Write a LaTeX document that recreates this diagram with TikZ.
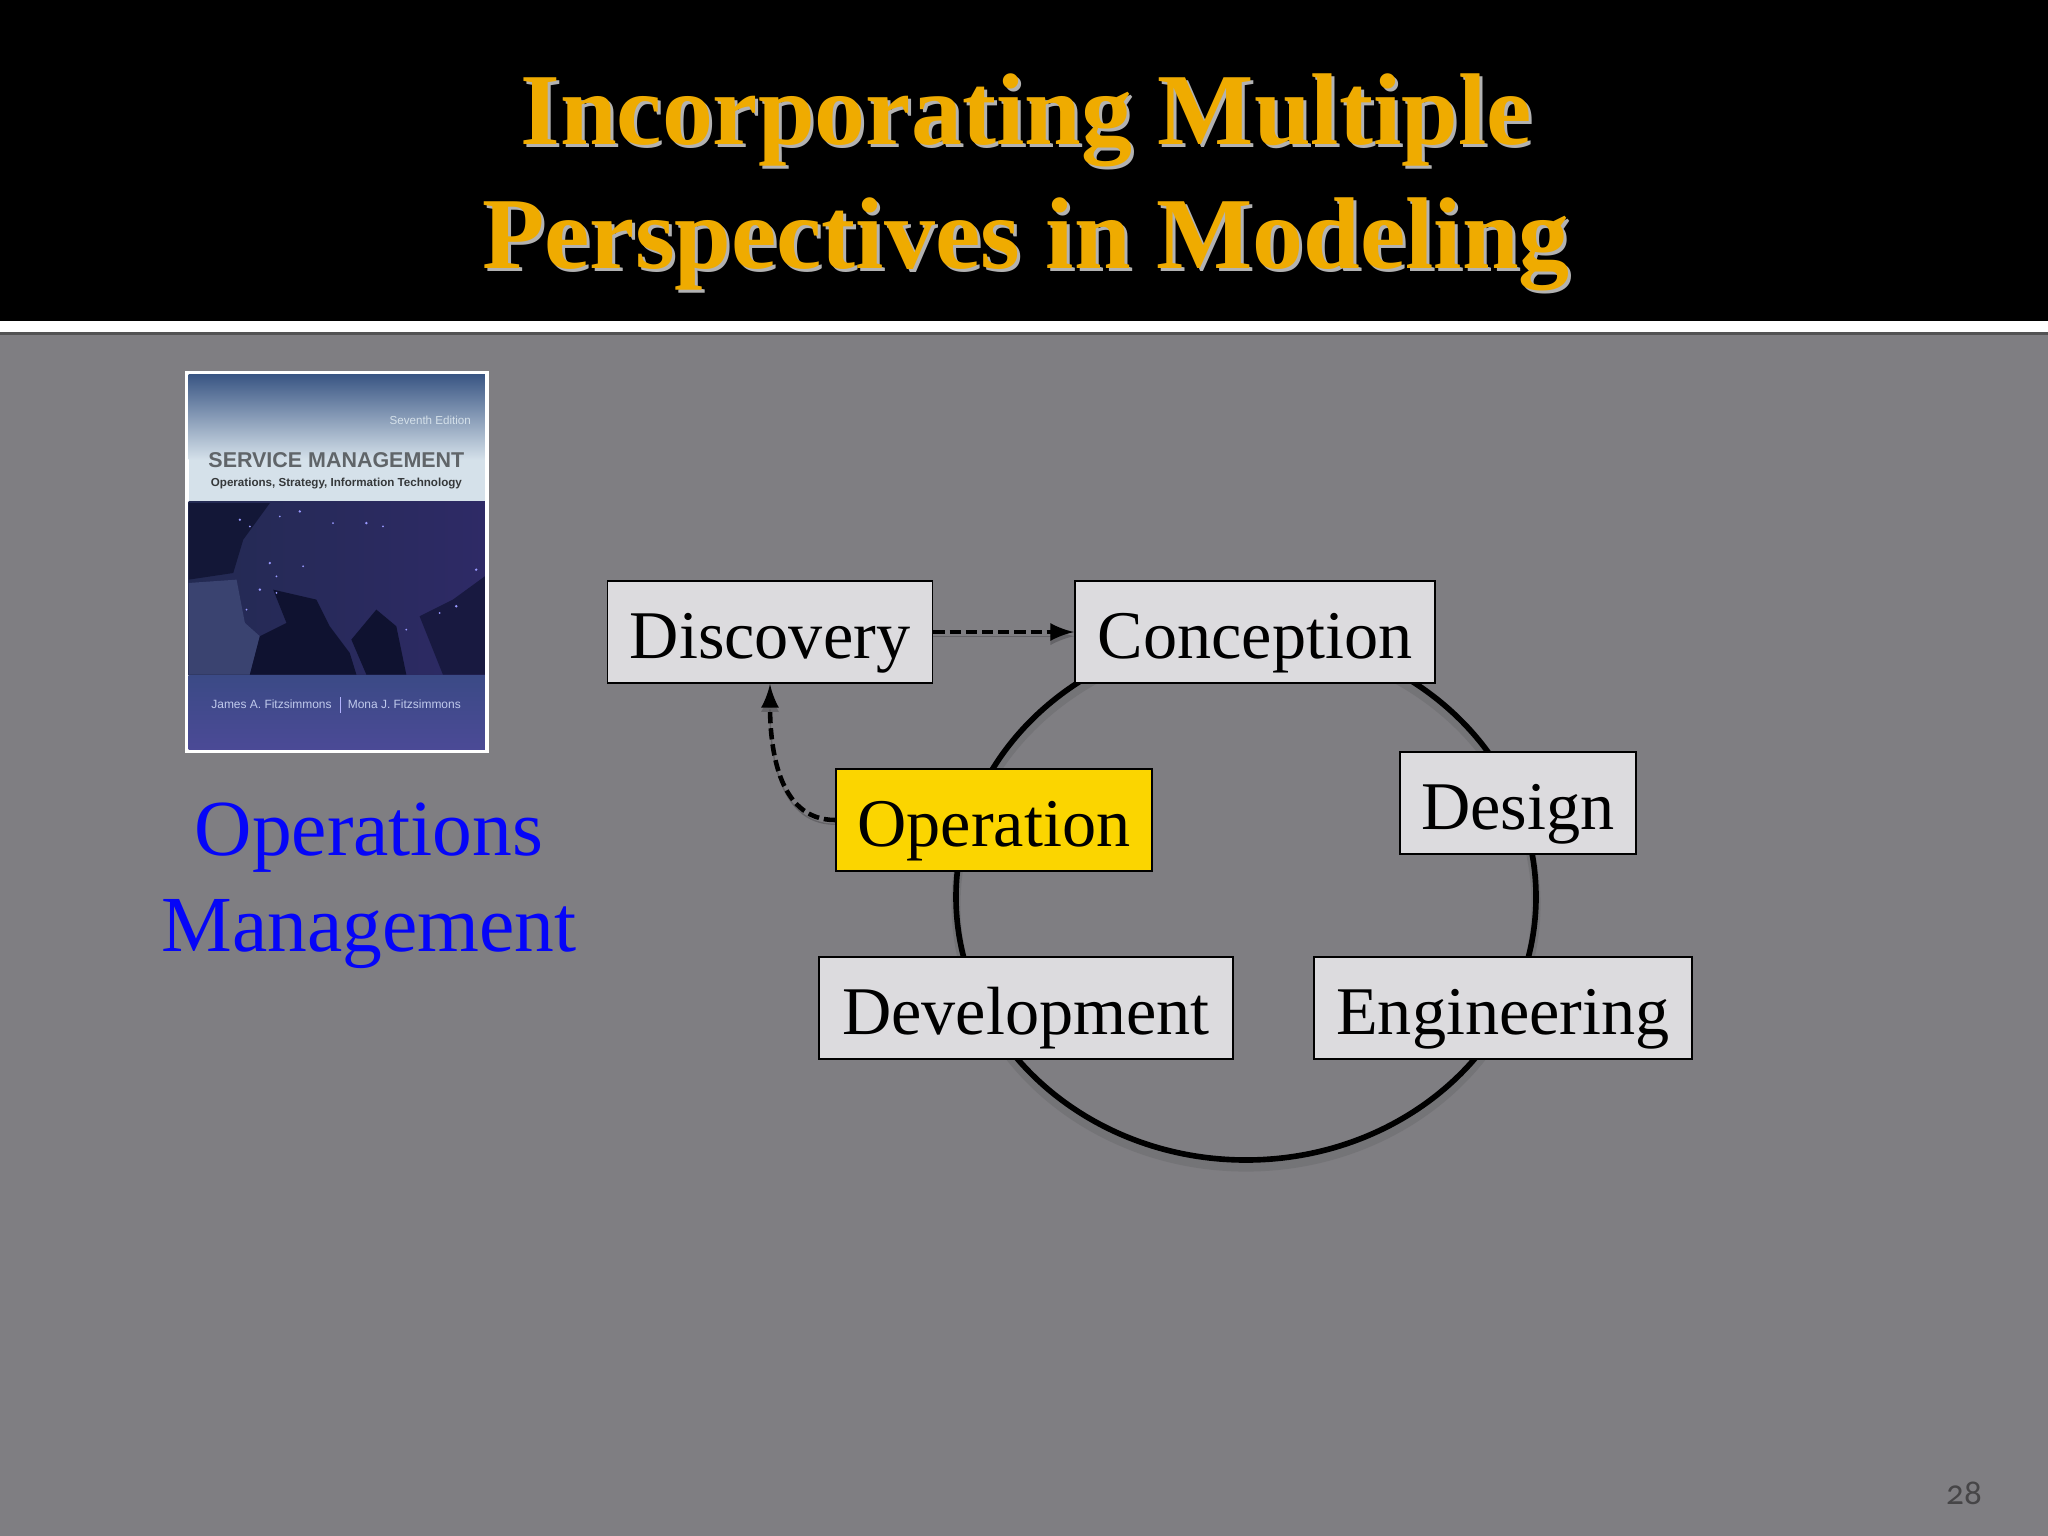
\documentclass[tikz,border=0pt]{standalone}
\usepackage{fontspec}
\setmainfont{Liberation Serif}
\setsansfont{Liberation Sans}
\newfontfamily\numfont[Numbers=OldStyle]{Carlito}
\usepackage{xcolor}
\definecolor{slidegray}{HTML}{7F7E82}
\definecolor{boxgray}{HTML}{DCDBDE}
\definecolor{boxyellow}{HTML}{FBD500}
\definecolor{titlegold}{HTML}{EFAB00}
\definecolor{opsblue}{HTML}{0505F8}
\definecolor{covertop}{HTML}{3A5684}
\definecolor{coverpale}{HTML}{D5E1EA}
\definecolor{covernight}{HTML}{232A52}
\definecolor{covereast}{HTML}{2E2A66}
\definecolor{coverlow}{HTML}{3B4A86}
\definecolor{coverbase}{HTML}{4B4A96}
\definecolor{coverland}{HTML}{3A4370}
\definecolor{coversea}{HTML}{0F1230}
\tikzset{
  phasebox/.style={draw=black,line width=0.55pt,fill=boxgray,minimum height=102*0.01cm,inner sep=0pt,text height=21.9pt,text depth=7.1pt,font=\fontsize{19.4}{23}\selectfont},
  flowline/.style={dash pattern=on 3.2pt off 1.4pt,line width=1.3pt,-latex,preaction={draw,black,opacity=0.2,transform canvas={yshift=-1.2pt}}}
}

\begin{document}
\begin{tikzpicture}[x=0.01cm,y=-0.01cm]
  \useasboundingbox (0,0) rectangle (2048,1536);
  \path[fill=slidegray] (0,0) rectangle (2048,1536);
  \path[fill=black] (0,0) rectangle (2048,321);
  \path[fill=black!75,fill opacity=0.7] (0,331) rectangle (2048,335);
  \path[fill=white] (0,321) rectangle (2048,332);

  % title
  \node[align=center,text=white!70!black,font=\fontsize{29}{35.2}\bfseries\selectfont] (titleshade) at (1029,185) {Incorporating Multiple\\Perspectives in Modeling};
  \node[align=center,text=titlegold,font=\fontsize{29}{35.2}\bfseries\selectfont] (title) at (1026,182) {Incorporating Multiple\\Perspectives in Modeling};

  % book cover
  \path[fill=white] (185,371) rectangle (489,753);
  \begin{scope}[shift={(170,360)},x=0.003333cm,y=-0.003333cm]
    \path[top color=covertop,bottom color=coverpale] (56,44) rectangle (946,300);
    \path[fill=coverpale] (56,300) rectangle (946,425);
    \path[left color=covernight,right color=covereast] (56,425) rectangle (946,948);
    \path[top color=coverlow,bottom color=coverbase] (56,948) rectangle (946,1170);
    % land and sea
    \path[fill=coversea!80!covernight] (56,430)--(300,430)--(220,540)--(190,640)--(56,660)--cycle;
    \path[fill=coverland] (56,670)--(200,660)--(225,790)--(270,830)--(240,945)--(56,945)--cycle;
    \path[fill=coversea] (240,945)--(270,830)--(350,790)--(310,690)--(440,720)--(480,800)--(540,880)--(560,945)--cycle;
    \path[fill=coversea] (545,840)--(620,750)--(680,800)--(710,945)--(590,945)--cycle;
    \path[fill=coversea!70!covereast] (750,770)--(850,720)--(946,650)--(946,945)--(820,945)--cycle;
    \path[fill=white!60!blue] (210,480) circle (4) (240,500) circle (3) (330,470) circle (3) (390,455) circle (4) (300,610) circle (4) (320,650) circle (3) (270,690) circle (4) (320,700) circle (3) (490,490) circle (3) (590,490) circle (4) (640,500) circle (3) (400,620) circle (3) (230,750) circle (3) (860,740) circle (4) (920,630) circle (4) (810,760) circle (3) (710,810) circle (3);
    \path[draw=white!70!blue,line width=0.2pt] (512,1012)--(512,1060);
    \node[text=coverpale,font=\sffamily\fontsize{3.3}{4}\selectfont] (edition) at (782,181) {Seventh Edition};
    \node[text=black!55!coverpale,font=\sffamily\bfseries\fontsize{6.1}{8}\selectfont] (booktitle) at (500,302) {SERVICE MANAGEMENT};
    \node[text=black!75!coverpale,font=\sffamily\bfseries\fontsize{3.3}{5}\selectfont] (booksub) at (500,372) {Operations, Strategy, Information Technology};
    \node[text=coverpale!90!blue,font=\sffamily\fontsize{3.4}{5}\selectfont] (authora) at (305,1035) {James A. Fitzsimmons};
    \node[text=coverpale!90!blue,font=\sffamily\fontsize{3.4}{5}\selectfont] (authorb) at (704,1035) {Mona J. Fitzsimmons};
  \end{scope}

  \node[align=center,text=opsblue,font=\fontsize{22.6}{27.2}\selectfont] (ops) at (369,886) {Operations\\Management};

  % ring
  \draw[black!70,opacity=0.2,line width=2.6pt] (1246,904) ellipse (290 and 263);
  \draw[line width=1.6pt] (1246,897) ellipse (290 and 263);

  \node[phasebox,minimum width=325*0.01cm] (discovery) at (770,632) {Discovery};
  \node[phasebox,minimum width=360*0.01cm] (conception) at (1255,632) {Conception};
  \node[phasebox,minimum width=316*0.01cm,fill=boxyellow] (operation) at (994,820) {Operation};
  \node[phasebox,minimum width=236*0.01cm] (design) at (1518,803) {Design};
  \node[phasebox,minimum width=414*0.01cm] (development) at (1026,1008) {Development};
  \node[phasebox,minimum width=378*0.01cm] (engineering) at (1503,1008) {Engineering};

  \draw[flowline] (discovery.east)--(conception.west);
  \draw[flowline] (operation.west) to[out=180,in=-90] (discovery.south);

  \node[text=black!45!slidegray,font=\numfont\fontsize{10}{12}\selectfont] (pagenum) at (1964,1493) {28};
\end{tikzpicture}
\end{document}
